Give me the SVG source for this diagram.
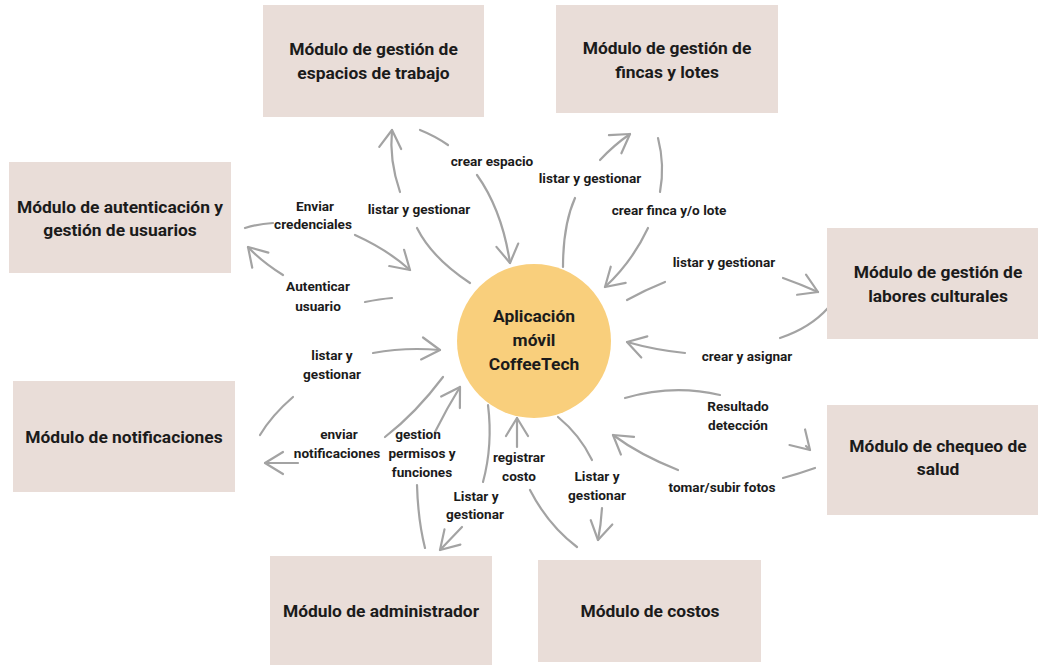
<svg xmlns="http://www.w3.org/2000/svg" width="1038" height="665" viewBox="0 0 1038 665">
<style>
.box{fill:#E9DDD8}
.title{font-family:Roboto,"Liberation Sans",sans-serif;font-weight:700;font-size:17.4px;fill:#1b1b1b;text-anchor:middle}
.lbl{font-family:Roboto,"Liberation Sans",sans-serif;font-weight:700;font-size:13.6px;fill:#1b1b1b;text-anchor:middle}
.c{fill:none;stroke:#A3A3A3;stroke-width:2.2;stroke-linecap:round}
.a{marker-end:url(#arr)}
</style>
<defs>
<marker id="arr" viewBox="0 0 24 26" refX="21" refY="13" markerWidth="24" markerHeight="26" markerUnits="userSpaceOnUse" orient="auto">
<path d="M3,2 L21,13 L3,24" fill="none" stroke="#A3A3A3" stroke-width="2.2" stroke-linecap="round" stroke-linejoin="round"/>
</marker>
</defs>
<rect width="1038" height="665" fill="#FFFFFF"/>

<g id="connectors">
<path class="c" d="M420,130 Q435,136 448,145"/>
<path class="c a" d="M477,175 Q502,210 510,263"/>
<path class="c" d="M470,283 Q432,258 417,228"/>
<path class="c a" d="M400,192 Q389,160 392,130"/>
<path class="c" d="M245,228 Q258,224 273,223"/>
<path class="c a" d="M355,235 Q388,250 410,270"/>
<path class="c a" d="M283,275 Q262,262 248,247"/>
<path class="c" d="M365,302 Q380,299 392,298"/>
<path class="c" d="M563,267 Q563,225 575,198"/>
<path class="c a" d="M600,160 Q614,145 630,134"/>
<path class="c" d="M658,138 Q665,165 660,192"/>
<path class="c a" d="M648,228 Q632,262 605,287"/>
<path class="c" d="M627,300 Q645,290 665,282"/>
<path class="c a" d="M783,278 Q800,284 818,292"/>
<path class="c" d="M828,308 Q810,328 780,338"/>
<path class="c a" d="M685,353 Q655,350 627,342"/>
<path class="c" d="M625,398 Q673,384 720,395"/>
<path class="c a" d="M806,446 L810,450"/>
<path class="c" d="M815,468 Q798,474 783,478"/>
<path class="c a" d="M678,470 Q640,455 613,435"/>
<path class="c" d="M558,417 Q580,435 592,460"/>
<path class="c a" d="M602,508 Q601,525 598,540"/>
<path class="c a" d="M517,447 L517,418"/>
<path class="c" d="M530,490 Q548,525 577,547"/>
<path class="c a" d="M373,353 Q405,347 440,350"/>
<path class="c" d="M293,397 Q272,415 260,435"/>
<path class="c" d="M443,377 Q416,413 385,437"/>
<path class="c a" d="M298,463 L265,463"/>
<path class="c a" d="M435,432 Q447,408 460,387"/>
<path class="c" d="M417,485 Q418,520 425,548"/>
<path class="c" d="M488,405 Q493,445 483,482"/>
<path class="c a" d="M462,527 L440,550"/>
</g>

<g id="labels">
<text class="lbl" x="492" y="166">crear espacio</text>
<text class="lbl" x="419" y="214">listar y gestionar</text>
<text class="lbl" x="315" y="211">Enviar</text>
<text class="lbl" x="313" y="229">credenciales</text>
<text class="lbl" x="318" y="291">Autenticar</text>
<text class="lbl" x="318" y="311">usuario</text>
<text class="lbl" x="590" y="183">listar y gestionar</text>
<text class="lbl" x="669" y="215">crear finca y/o lote</text>
<text class="lbl" x="724" y="267">listar y gestionar</text>
<text class="lbl" x="747" y="361">crear y asignar</text>
<text class="lbl" x="738" y="411">Resultado</text>
<text class="lbl" x="738" y="430">detección</text>
<text class="lbl" x="722" y="492">tomar/subir fotos</text>
<text class="lbl" x="332" y="360">listar y</text>
<text class="lbl" x="332" y="379">gestionar</text>
<text class="lbl" x="339" y="439">enviar</text>
<text class="lbl" x="337" y="458">notificaciones</text>
<text class="lbl" x="418" y="439">gestion</text>
<text class="lbl" x="422" y="458">permisos y</text>
<text class="lbl" x="422" y="477">funciones</text>
<text class="lbl" x="519" y="462">registrar</text>
<text class="lbl" x="519" y="481">costo</text>
<text class="lbl" x="476" y="501">Listar y</text>
<text class="lbl" x="475" y="519">gestionar</text>
<text class="lbl" x="597" y="481">Listar y</text>
<text class="lbl" x="597" y="500">gestionar</text>
</g>

<g id="app">
<circle cx="534" cy="341" r="77" fill="#F9CF7C"/>
<text class="title" x="534" y="322">Aplicación</text>
<text class="title" x="534" y="346">móvil</text>
<text class="title" x="534" y="370">CoffeeTech</text>
</g>

<g id="mod-espacios">
<rect class="box" x="263" y="5" width="221" height="112"/>
<text class="title" x="373.5" y="55">Módulo de gestión de</text>
<text class="title" x="373.5" y="79">espacios de trabajo</text>
</g>
<g id="mod-fincas">
<rect class="box" x="556" y="5" width="222" height="108"/>
<text class="title" x="667" y="54">Módulo de gestión de</text>
<text class="title" x="667" y="78">fincas y lotes</text>
</g>
<g id="mod-autenticacion">
<rect class="box" x="9" y="162" width="222" height="111"/>
<text class="title" x="120" y="213">Módulo de autenticación y</text>
<text class="title" x="120" y="236">gestión de usuarios</text>
</g>
<g id="mod-labores">
<rect class="box" x="827" y="228" width="222" height="111"/>
<text class="title" x="938" y="278">Módulo de gestión de</text>
<text class="title" x="938" y="302">labores culturales</text>
</g>
<g id="mod-notificaciones">
<rect class="box" x="13" y="381" width="222" height="111"/>
<text class="title" x="124" y="443">Módulo de notificaciones</text>
</g>
<g id="mod-chequeo">
<rect class="box" x="827" y="405" width="222" height="110"/>
<text class="title" x="938" y="452">Módulo de chequeo de</text>
<text class="title" x="938" y="475">salud</text>
</g>
<g id="mod-administrador">
<rect class="box" x="270" y="556" width="222" height="112"/>
<text class="title" x="381" y="617">Módulo de administrador</text>
</g>
<g id="mod-costos">
<rect class="box" x="538" y="560" width="223" height="102"/>
<text class="title" x="650" y="617">Módulo de costos</text>
</g>
</svg>
